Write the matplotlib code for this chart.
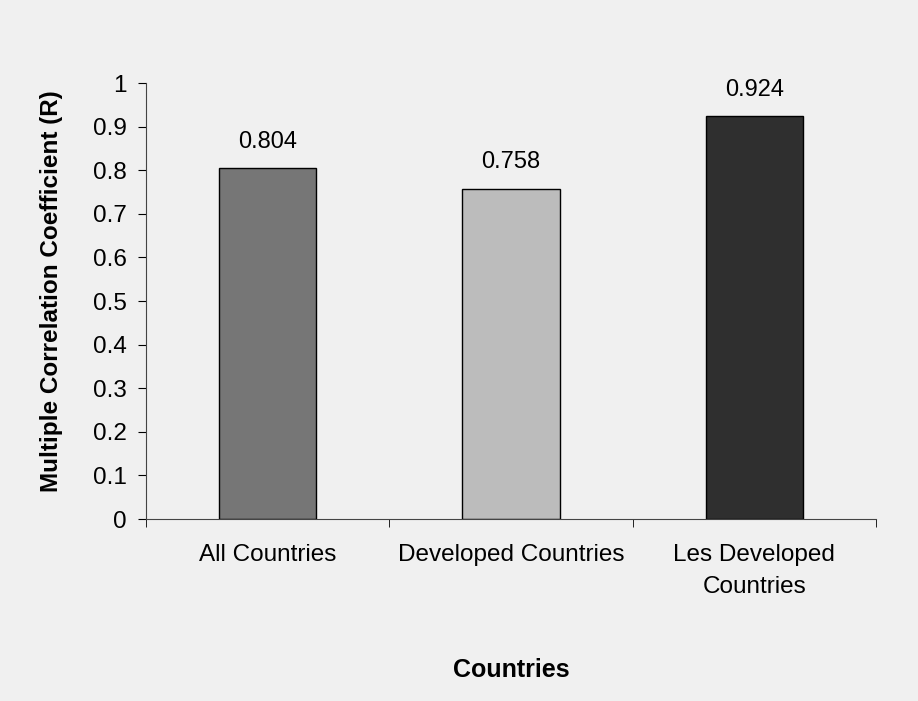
import matplotlib.pyplot as plt
import numpy as np

# Data
categories = ['All Countries', 'Developed Countries', 'Les Developed\nCountries']
values = [0.804, 0.758, 0.924]
bar_colors = ['#767676', '#bcbcbc', '#2f2f2f']
yticks = [0, 0.1, 0.2, 0.3, 0.4, 0.5, 0.6, 0.7, 0.8, 0.9, 1]
ytick_labels = ['0', '0.1', '0.2', '0.3', '0.4', '0.5', '0.6', '0.7', '0.8', '0.9', '1']

plt.rcParams['font.family'] = ['Liberation Sans', 'DejaVu Sans']

fig = plt.figure(figsize=(9.18, 7.01), dpi=100, facecolor='#f0f0f0')
ax = fig.add_axes([146 / 918, 1 - 519 / 701, (876 - 146) / 918, (519 - 83) / 701])
ax.set_facecolor('#f0f0f0')

x = np.arange(len(categories))
ax.bar(x, values, width=0.4, color=bar_colors, edgecolor='black', linewidth=1)

# value labels above bars
for xi, v in zip(x, values):
    ax.text(xi, v + 0.035, f'{v:.3f}', ha='center', va='bottom', fontsize=17)

ax.set_xlim(-0.5, 2.5)
ax.set_ylim(0, 1)
ax.set_yticks(yticks)
ax.set_yticklabels(ytick_labels, fontsize=17.5)
ax.set_xticks(x)
ax.set_xticklabels(categories, fontsize=17.5, linespacing=1.6)
ax.tick_params(axis='x', length=0, pad=18)
ax.set_xticks([-0.5, 0.5, 1.5, 2.5], minor=True)
ax.tick_params(axis='x', which='minor', length=6, direction='out')
ax.tick_params(axis='y', length=6, direction='out', pad=8)

for s in ['top', 'right']:
    ax.spines[s].set_visible(False)
ax.spines['left'].set_color('#444444')
ax.spines['bottom'].set_color('#444444')

ax.set_ylabel('Multiple Correlation Coefficient (R)', fontsize=17.5, fontweight='bold')
ax.yaxis.set_label_coords(-0.114, 0.523)
ax.set_xlabel('Countries', fontsize=18, fontweight='bold', labelpad=43)

fig.savefig('out.png', dpi=100, facecolor=fig.get_facecolor())
